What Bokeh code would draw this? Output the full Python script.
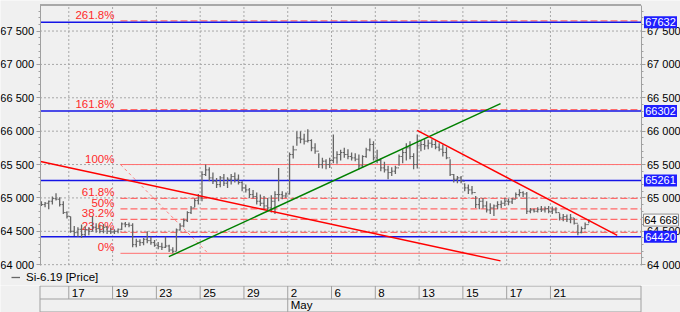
import numpy as np
from bokeh.plotting import figure
from bokeh.layouts import column
from bokeh.models import Range1d, FixedTicker, LinearAxis, Legend, LegendItem
from bokeh.core.properties import value
from bokeh.embed import file_html
from bokeh.resources import INLINE

# ---------------- data ----------------
day_labels = ["17", "19", "23", "25", "29", "2", "6", "8", "13", "15", "17", "21"]
day_pos = [0, 2, 4, 6, 8, 10, 12, 14, 16, 18, 20, 22]   # trading-day index
month_labels = ["May"]
month_pos = [10]

bars_start = -1.25      # trading-day index of first bar
bars_per_day = 6

highs = [64950, 64940, 64960, 65020, 65070, 65010, 64950, 64800, 64720, 64580,
         64560, 64600, 64570, 64560, 64730, 64620, 64600, 64610, 64580, 64550,
         64530, 64540, 64630, 64640, 64630, 64620, 64390, 64380, 64400, 64500,
         64420, 64370, 64340, 64330, 64420, 64300, 64260, 64540, 64620, 64690,
         64800, 64880, 64990, 65060, 65400, 65500, 65460, 65380, 65300, 65330,
         65360, 65310, 65360, 65380, 65350, 65250, 65200, 65150, 65120, 65080,
         65050, 65030, 65000, 65040, 65100, 65450, 65100, 65080, 65680, 65780,
         66000, 66000, 65960, 66030, 65880, 65820, 65670, 65600, 65580, 65600,
         65950, 65700, 65720, 65750, 65730, 65680, 65670, 65650, 65640, 65750,
         65890, 65850, 65720, 65590, 65540, 65480, 65460, 65480, 65650, 65730,
         65820, 65850, 65670, 65950, 65860, 65880, 65870, 65880, 65860, 65820,
         65800, 65760, 65580, 65360, 65330, 65330, 65220, 65200, 65180, 65030,
         65000, 65000, 64950, 64920, 64900, 64950, 64960, 65000, 64990, 65000,
         65080, 65130, 65100, 65090, 64850, 64840, 64860, 64880, 64870, 64880,
         64870, 64860, 64770, 64760, 64750, 64760, 64700, 64600, 64570, 64630,
         64680]
lows = [64880, 64860, 64830, 64900, 64960, 64870, 64760, 64690, 64480, 64430,
        64420, 64400, 64430, 64440, 64500, 64480, 64470, 64470, 64460, 64460,
        64460, 64470, 64520, 64560, 64560, 64260, 64260, 64280, 64290, 64320,
        64300, 64270, 64230, 64220, 64250, 64190, 64170, 64200, 64510, 64560,
        64640, 64760, 64860, 64900, 64950, 65330, 65250, 65210, 65150, 65160,
        65180, 65150, 65200, 65230, 65200, 65100, 65080, 65000, 64990, 64900,
        64880, 64830, 64800, 64780, 64760, 64950, 64980, 65000, 65050, 65590,
        65780, 65820, 65800, 65830, 65700, 65660, 65450, 65440, 65430, 65450,
        65520, 65510, 65560, 65600, 65580, 65560, 65550, 65430, 65450, 65600,
        65700, 65560, 65520, 65400, 65380, 65280, 65330, 65360, 65480, 65520,
        65560, 65580, 65430, 65440, 65700, 65720, 65730, 65750, 65730, 65700,
        65620, 65580, 65330, 65230, 65220, 65220, 65100, 65060, 65050, 64850,
        64830, 64840, 64780, 64760, 64730, 64830, 64850, 64880, 64890, 64910,
        64990, 65020, 65010, 64760, 64770, 64780, 64780, 64790, 64780, 64770,
        64760, 64770, 64660, 64650, 64640, 64620, 64600, 64440, 64470, 64530,
        64620]
closes = [64900, 64920, 64950, 64990, 64980, 64900, 64780, 64720, 64500, 64480,
          64530, 64450, 64520, 64500, 64560, 64540, 64500, 64560, 64500, 64490,
          64500, 64530, 64610, 64600, 64590, 64300, 64350, 64330, 64380, 64360,
          64330, 64290, 64270, 64260, 64280, 64220, 64200, 64520, 64580, 64660,
          64780, 64850, 64960, 65000, 65350, 65420, 65300, 65250, 65200, 65300,
          65220, 65280, 65320, 65280, 65230, 65150, 65120, 65050, 65020, 64950,
          64920, 64880, 64850, 64950, 65050, 65050, 65030, 65060, 65650, 65720,
          65900, 65880, 65850, 65860, 65750, 65700, 65500, 65550, 65500, 65560,
          65600, 65650, 65680, 65650, 65620, 65600, 65580, 65480, 65620, 65720,
          65800, 65600, 65560, 65450, 65420, 65380, 65400, 65450, 65620, 65680,
          65750, 65620, 65500, 65780, 65800, 65780, 65820, 65800, 65760, 65730,
          65680, 65600, 65350, 65280, 65300, 65250, 65150, 65120, 65080, 64900,
          64950, 64880, 64820, 64850, 64880, 64900, 64920, 64950, 64940, 64980,
          65050, 65080, 65060, 64800, 64820, 64800, 64830, 64820, 64840, 64800,
          64820, 64780, 64700, 64720, 64680, 64700, 64620, 64480, 64540, 64600,
          64668]

fib_low, fib_high = 64170, 65500
fib_ratios = [0.0, 0.236, 0.382, 0.5, 0.618, 1.0, 1.618, 2.618]
fib_texts = ["0%", "23.6%", "38.2%", "50%", "61.8%", "100%", "161.8%", "261.8%"]
fib_x0 = 2.36
fib_diag_x = [2.36, 6.36]
fib_diag_y = [65500, 64170]

level_values = [67632, 66302, 65261, 64420]
level_texts = ["67632", "66302", "65261", "64420"]
last_price = 64668
last_price_text = "64 668"

red_long_x, red_long_y = [-1.29, 19.72], [65547, 64057]
green_x, green_y = [4.57, 19.72], [64120, 66412]
red_short_x, red_short_y = [15.91, 25.05], [66012, 64439]

y_ticks = [64000, 64500, 65000, 65500, 66000, 66500, 67000, 67500]
y_tick_labels = ["64 000", "64 500", "65 000", "65 500", "66 000", "66 500", "67 000", "67 500"]
y_minor = list(range(64000, 67900, 100))

legend_text = "Si-6.19 [Price]"

# ---------------- layout geometry ----------------
BG = "#f0f0f0"
GRID = "#a8a8a8"
AXC = "#a0a0a0"
FONT = "Liberation Sans"
W, H_MAIN, H_STRIP = 680, 285, 27
X0, X1 = -1.315, 26.135          # chart area data range
Y0, Y1 = 63995, 67890
CL, CR, CT, CB = 39.5, 640.5, 4.5, 264.5   # chart area in pixels
kx = (X1 - X0) / (CR - CL)
ky = (Y1 - Y0) / (CB - CT)
XL, XR = X0 - CL * kx, X1 + (W - CR) * kx
YT, YB = Y1 + CT * ky, Y0 - (H_MAIN - CB) * ky

p = figure(width=W, height=H_MAIN, x_range=Range1d(XL, XR), y_range=Range1d(YB, YT),
           output_backend="svg", toolbar_location=None,
           x_axis_location=None, y_axis_location=None,
           min_border_left=0, min_border_right=0, min_border_top=0, min_border_bottom=0,
           background_fill_color=BG, border_fill_color=BG, outline_line_color=None)
p.grid.visible = False

# grid (dotted) inside the chart area
p.segment(x0=[X0] * len(y_ticks), y0=y_ticks, x1=[X1] * len(y_ticks), y1=y_ticks,
          line_color=GRID, line_width=1, line_dash="2 2")
p.segment(x0=day_pos, y0=[Y0] * len(day_pos), x1=day_pos, y1=[Y1] * len(day_pos),
          line_color=GRID, line_width=1, line_dash="2 2")
# chart top border
p.segment(x0=[X0], y0=[Y1], x1=[X1], y1=[Y1], line_color="#a8a8a8", line_width=2)

# axes
ticker = FixedTicker(ticks=y_ticks, minor_ticks=y_minor)
overrides = {t: l for t, l in zip(y_ticks, y_tick_labels)}
laxis = LinearAxis(ticker=ticker, fixed_location=X0, bounds=(Y0, Y1))
raxis = LinearAxis(ticker=ticker, fixed_location=X1, bounds=(Y0, Y1))
p.add_layout(laxis, "left")
p.add_layout(raxis, "right")
for ax in (laxis, raxis):
    ax.major_label_overrides = overrides
    ax.major_label_text_font = FONT
    ax.major_label_text_font_size = "11px"
    ax.major_label_text_color = "#000000"
    ax.major_label_standoff = 2
    ax.axis_line_color = AXC
    ax.major_tick_line_color = AXC
    ax.minor_tick_line_color = AXC
    ax.major_tick_out = 4
    ax.major_tick_in = 0
    ax.minor_tick_out = 2
    ax.minor_tick_in = 0

# fib lines
fib_levels = [fib_low + r * (fib_high - fib_low) for r in fib_ratios]
solid = [lv for r, lv in zip(fib_ratios, fib_levels) if r in (0.0, 1.0)]
dashed = [lv for r, lv in zip(fib_ratios, fib_levels) if r not in (0.0, 1.0)]
p.segment(x0=[fib_x0] * len(solid), y0=solid, x1=[X1] * len(solid), y1=solid,
          line_color="#ff7070", line_width=1)
p.segment(x0=[fib_x0] * len(dashed), y0=dashed, x1=[X1] * len(dashed), y1=dashed,
          line_color="#ff6a6a", line_width=1.3, line_dash="7 3")
p.line(fib_diag_x, fib_diag_y, line_color="#ff8080", line_width=1, line_dash="3 3")
p.text(x=[fib_x0] * len(fib_levels), y=fib_levels, text=fib_texts,
       text_align="right", text_baseline="bottom", x_offset=-6, y_offset=0,
       text_color="#ff2a2a", text_font=value(FONT), text_font_size="11.5px")

# blue levels
n = len(level_values)
p.segment(x0=[X0] * n, y0=level_values, x1=[X1] * n, y1=level_values,
          line_color="#1414e6", line_width=1.5)

# price bars (OHLC)
t = bars_start + np.arange(len(highs)) / bars_per_day
opens = [closes[0]] + closes[:-1]
dt = 1.6 * kx
BAR = "#666666"
bars = p.segment(x0=t, y0=lows, x1=t, y1=highs, line_color=BAR, line_width=1.3)
p.segment(x0=t - dt, y0=opens, x1=t, y1=opens, line_color=BAR, line_width=1)
p.segment(x0=t, y0=closes, x1=t + dt, y1=closes, line_color=BAR, line_width=1)

# trend lines
p.line(red_long_x, red_long_y, line_color="#ff0000", line_width=1.5)
p.line(green_x, green_y, line_color="#008000", line_width=1.5)
p.line(red_short_x, red_short_y, line_color="#ff0000", line_width=1.5)

# right-side value boxes (drawn above the axis labels)
bx = X1 + 19.5 * kx
p.rect(x=[bx] * n, y=level_values, width=33 * kx, height=12 * ky,
       fill_color="#1e1eff", line_color=None, level="overlay")
p.text(x=[bx] * n, y=level_values, text=level_texts, text_align="center",
       text_baseline="middle", text_color="white", text_font=value(FONT),
       text_font_size="11px", level="overlay")
p.rect(x=[bx + 0.5 * kx], y=[last_price], width=35 * kx, height=12 * ky,
       fill_color="#f8f8f8", line_color="#909090", line_width=1, level="overlay")
p.text(x=[bx + 0.5 * kx], y=[last_price], text=[last_price_text], text_align="center",
       text_baseline="middle", text_color="black", text_font=value(FONT),
       text_font_size="11px", level="overlay")

# legend below the chart
legend = Legend(items=[LegendItem(label=legend_text, renderers=[bars])],
                location=(11, 2), orientation="horizontal",
                glyph_width=9, glyph_height=12, label_height=12, label_standoff=6,
                padding=0, margin=0, spacing=0,
                background_fill_alpha=0, border_line_alpha=0,
                label_text_font=FONT, label_text_font_size="11.5px",
                label_text_color="black")
p.add_layout(legend)

# ---------------- bottom strip (time axis) ----------------
s = figure(width=W, height=H_STRIP, x_range=p.x_range, y_range=Range1d(-0.04, 2.04),
           output_backend="svg", toolbar_location=None,
           x_axis_location=None, y_axis_location=None,
           min_border_left=0, min_border_right=0, min_border_top=0, min_border_bottom=0,
           background_fill_color=BG, border_fill_color=BG, outline_line_color=None)
s.grid.visible = False
s.segment(x0=[X0, X0, X0], y0=[0, 1, 2], x1=[X1, X1, X1], y1=[0, 1, 2],
          line_color=AXC, line_width=1)
s.segment(x0=[X0, X1], y0=[0, 0], x1=[X0, X1], y1=[2, 2], line_color=AXC, line_width=1)
s.segment(x0=day_pos, y0=[1] * len(day_pos), x1=day_pos, y1=[2] * len(day_pos),
          line_color=AXC, line_width=1)
s.segment(x0=month_pos, y0=[0] * len(month_pos), x1=month_pos, y1=[1] * len(month_pos),
          line_color=AXC, line_width=1)
s.text(x=day_pos, y=[1.5] * len(day_pos), text=day_labels, x_offset=3,
       text_align="left", text_baseline="middle", text_color="black",
       text_font=value(FONT), text_font_size="11.5px")
s.text(x=month_pos, y=[0.5] * len(month_pos), text=month_labels, x_offset=3,
       text_align="left", text_baseline="middle", text_color="black",
       text_font=value(FONT), text_font_size="11.5px")

layout = column(p, s, spacing=0)
open("out.html", "w").write(file_html(layout, INLINE))
